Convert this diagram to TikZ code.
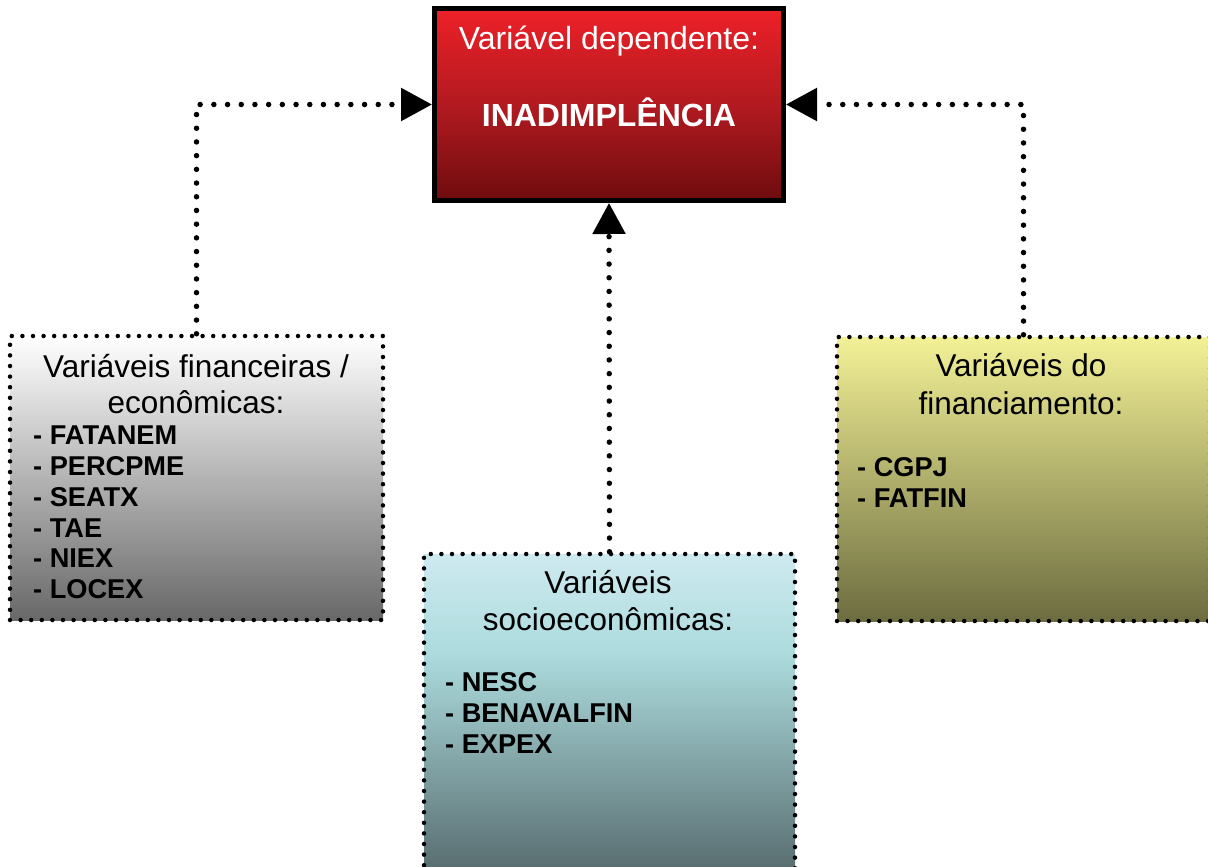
\documentclass[tikz,border=0pt]{standalone}
\usepackage{fontspec}
\setmainfont{Liberation Sans}
\usetikzlibrary{arrows.meta}
\definecolor{redtop}{RGB}{238,32,40}
\definecolor{redmid}{RGB}{178,26,32}
\definecolor{redbot}{RGB}{110,12,14}
\definecolor{graybot}{RGB}{104,104,104}
\definecolor{cyantop}{RGB}{206,234,240}
\definecolor{cyanmid}{RGB}{172,219,221}
\definecolor{cyanlow}{RGB}{90,111,114}
\definecolor{cyanbot}{RGB}{80,98,101}
\definecolor{yeltop}{RGB}{243,241,150}
\definecolor{yelbot}{RGB}{108,108,64}
\pgfdeclareverticalshading{cyanshade}{100bp}{color(0bp)=(cyanbot); color(25bp)=(cyanbot); color(29.8bp)=(cyanlow); color(60.4bp)=(cyanmid); color(75bp)=(cyantop); color(100bp)=(cyantop)}
\tikzset{
  dotbox/.style={rectangle, draw=black, line width=4.5pt, dash pattern=on 0pt off 10.6pt, line cap=round, inner sep=0pt},
  mainbox/.style={rectangle, draw=black, line width=5pt, inner sep=0pt, top color=redtop, bottom color=redbot, middle color=redmid},
  conn/.style={line width=5.5pt, dash pattern=on 0pt off 13.7pt, line cap=round, -{Triangle[length=31pt,width=32pt]}},
  title/.style={anchor=base, inner sep=0pt, font=\fontsize{31.5}{36}\selectfont},
  item/.style={anchor=base west, inner sep=0pt, font=\fontsize{27.2}{30}\selectfont\bfseries},
}
\begin{document}
\begin{tikzpicture}[x=1pt,y=-1pt]
\clip (0,0) rectangle (1208,867);
\fill[white] (0,0) rectangle (1208,867);
% boxes
\node[mainbox, minimum width=349pt, minimum height=192pt] (top) at (609,104.5) {};
\node[dotbox, top color=white, bottom color=graybot, minimum width=373pt, minimum height=284pt] (lb) at (196.5,478) {};
\node[dotbox, shade, shading=cyanshade, minimum width=371pt, minimum height=346pt] (mb) at (609.5,727) {};
\node[dotbox, top color=yeltop, bottom color=yelbot, minimum width=373pt, minimum height=284pt] (rb) at (1023.5,479) {};
% top texts
\node[title, text=white, font=\fontsize{32}{36}\selectfont] (t1) at (609,50) {Variável dependente:};
\node[title, text=white, font=\fontsize{32}{36}\selectfont\bfseries] (t2) at (609,126) {INADIMPLÊNCIA};
% left texts
\node[title] (l1) at (196,377) {Variáveis financeiras /};
\node[title] (l2) at (196,413) {econômicas:};
\node[item] (l3) at (33,444) {- FATANEM};
\node[item] (l4) at (33,475) {- PERCPME};
\node[item] (l5) at (33,506) {- SEATX};
\node[item] (l6) at (33,537) {- TAE};
\node[item] (l7) at (33,567.5) {- NIEX};
\node[item] (l8) at (33,598) {- LOCEX};
% middle texts
\node[title] (m1) at (608,593) {Variáveis};
\node[title] (m2) at (608,630) {socioeconômicas:};
\node[item] (m3) at (445,691) {- NESC};
\node[item] (m4) at (445,722) {- BENAVALFIN};
\node[item] (m5) at (445,753) {- EXPEX};
% right texts
\node[title] (r1) at (1021,376) {Variáveis do};
\node[title] (r2) at (1021,414) {financiamento:};
\node[item] (r3) at (857,476) {- CGPJ};
\node[item] (r4) at (857,507.5) {- FATFIN};
% connectors
\draw[conn] (lb.north) |- (top.west);
\draw[conn] (rb.north) |- (top.east);
\draw[conn] (mb.north) -- (top.south);
\end{tikzpicture}
\end{document}
